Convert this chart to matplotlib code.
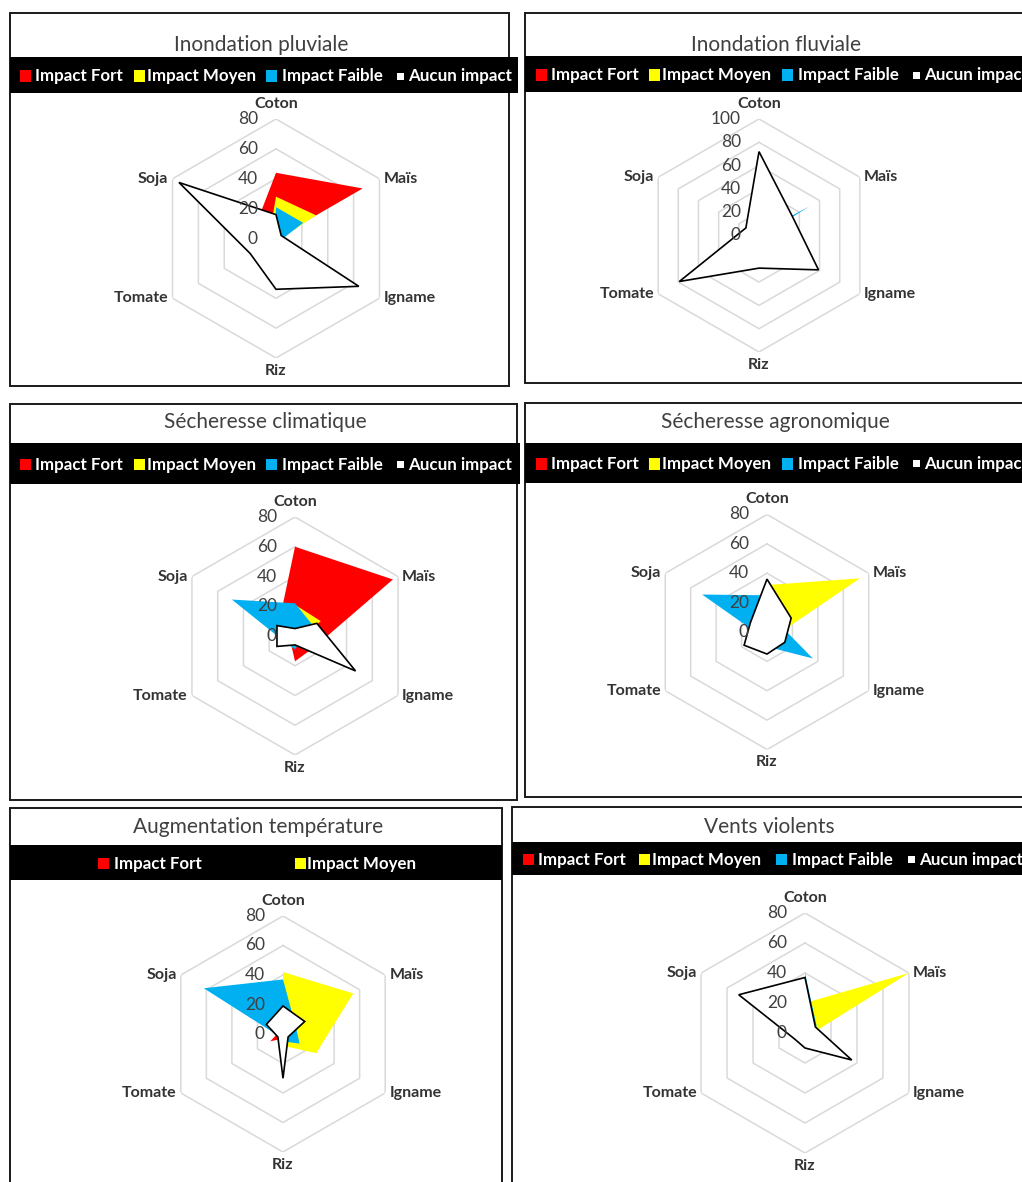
import matplotlib
matplotlib.use("Agg")
import matplotlib.pyplot as plt
import numpy as np
from matplotlib.patches import Rectangle

# --- Données (pourcentages par culture) ---
categories = ["Coton", "Maïs", "Igname", "Riz", "Tomate", "Soja"]
series_names = ["Impact Fort", "Impact Moyen", "Impact Faible", "Aucun impact"]
series_colors = ["#FF0000", "#FFFF00", "#00B0F0", "#FFFFFF"]

pluviale_fort   = [44, 67, 0, 0, 0, 16]
pluviale_moyen  = [28, 31, 2, 0, 0, 5]
pluviale_faible = [21, 21, 3, 0, 0, 1]
pluviale_aucun  = [16, 4, 64, 34, 20, 75]

fluviale_fort   = [0, 0, 0, 0, 0, 0]
fluviale_moyen  = [0, 0, 0, 0, 0, 0]
fluviale_faible = [2, 50, 2, 0, 0, 0]
fluviale_aucun  = [72, 33, 59, 28, 79, 13]

climatique_fort   = [60, 76, 15, 17, 4, 13]
climatique_moyen  = [21, 20, 3, 0, 0, 5]
climatique_faible = [22, 14, 5, 9, 8, 49]
climatique_aucun  = [5, 17, 47, 6, 14, 14]

agronomique_fort   = [0, 0, 0, 0, 0, 0]
agronomique_moyen  = [32, 73, 6, 0, 0, 5]
agronomique_faible = [25, 10, 36, 10, 5, 51]
agronomique_aucun  = [36, 19, 14, 15, 18, 13]

temperature_fort   = [0, 0, 0, 3, 10, 3]
temperature_moyen  = [42, 55, 26, 8, 0, 0]
temperature_faible = [37, 10, 13, 5, 3, 62]
temperature_aucun  = [19, 17, 4, 30, 4, 13]

vents_fort   = [0, 0, 0, 0, 0, 0]
vents_moyen  = [20, 80, 3, 0, 0, 0]
vents_faible = [40, 9, 3, 0, 0, 0]
vents_aucun  = [37, 8, 36, 10, 8, 51]

ticks_80  = [0, 20, 40, 60, 80]
ticks_100 = [0, 20, 40, 60, 80, 100]

W, H = 1022, 1182
FONT = "Lato"
TXT = "#404040"

fig = plt.figure(figsize=(W / 100, H / 100), dpi=100)


def rect_px(x0, y0, x1, y1, **kw):
    r = Rectangle((x0 / W, 1 - y1 / H), (x1 - x0) / W, (y1 - y0) / H,
                  transform=fig.transFigure, **kw)
    fig.add_artist(r)


def text_px(x, y, s, **kw):
    fig.text(x / W, 1 - y / H, s, fontfamily=FONT, **kw)


def panneau(box, title, title_y, bar, legend, centre, radius, ticks, data):
    x0, y0, x1, y1 = box
    rect_px(x0, y0, x1, y1, facecolor="white", edgecolor="#1a1a1a", lw=1.4, zorder=0)
    text_px((x0 + min(x1, W)) / 2 + 2, title_y, title, ha="center", va="center",
            fontsize=15, color=TXT)

    # bandeau de légende
    bx0, by0, bx1, by1 = bar
    rect_px(bx0, by0, bx1, by1, facecolor="black", edgecolor="none", zorder=1)
    ym = (by0 + by1) / 2
    for (sq, tx, idx) in legend:
        s = 7 if idx == 3 else 11
        rect_px(sq, ym - s / 2 + 1, sq + s, ym + s / 2 + 1,
                facecolor=series_colors[idx], edgecolor="none", zorder=2)
        text_px(tx, ym + 1, series_names[idx], ha="left", va="center",
                fontsize=12.2, fontweight="bold", color="white", zorder=3)

    # radar
    cx, cy = centre
    ax = fig.add_axes([(cx - radius) / W, 1 - (cy + radius) / H,
                       2 * radius / W, 2 * radius / H], projection="polar")
    ax.set_theta_zero_location("N")
    ax.set_theta_direction(-1)
    ax.set_ylim(0, ticks[-1])
    ax.set_axis_off()

    theta = np.linspace(0, 2 * np.pi, len(categories), endpoint=False)
    th = np.append(theta, theta[0])

    for t in ticks[1:]:
        ax.plot(th, [t] * len(th), color="#D9D9D9", lw=1.1, zorder=1)

    for idx, vals in enumerate(data):
        v = np.append(vals, vals[0])
        if idx == 3:
            ax.fill(th, v, facecolor="white", edgecolor="black", lw=1.2, zorder=5)
        else:
            ax.fill(th, v, facecolor=series_colors[idx], edgecolor="none", zorder=2 + idx)

    for t in ticks:
        ax.annotate(str(t), xy=(0, t), xytext=(-13, 0), textcoords="offset points",
                    ha="right", va="center", fontsize=12.5, color=TXT,
                    fontfamily=FONT, zorder=10)

    rmax = ticks[-1]
    places = [((0, 6), "center", "bottom"), ((3, 0), "left", "center"),
              ((3, 0), "left", "center"), ((0, -4), "center", "top"),
              ((-3, 0), "right", "center"), ((-3, 0), "right", "center")]
    for ang, name, (off, ha, va) in zip(theta, categories, places):
        ax.annotate(name, xy=(ang, rmax), xytext=off, textcoords="offset points",
                    ha=ha, va=va, fontsize=11.5, fontweight="bold", color="#333333",
                    fontfamily=FONT, annotation_clip=False)


leg4 = lambda x0, d: [(x0 + 10 + d[0], x0 + 25 + d[0], 0), (x0 + 124 + d[1], x0 + 137 + d[1], 1),
                      (x0 + 256 + d[2], x0 + 272 + d[2], 2), (x0 + 387 + d[3], x0 + 398 + d[3], 3)]

panneau((10, 13, 509, 386), "Inondation pluviale", 45, (10, 57, 518, 93),
        leg4(10, (0, 0, 0, 0)), (276, 238.5), 119.5, ticks_80,
        [pluviale_fort, pluviale_moyen, pluviale_faible, pluviale_aucun])

panneau((525, 13, 1040, 383), "Inondation fluviale", 45, (525, 56, W, 92),
        leg4(525, (1, 0, 1, 1)), (759, 235.5), 116.5, ticks_100,
        [fluviale_fort, fluviale_moyen, fluviale_faible, fluviale_aucun])

panneau((10, 404, 517, 800), "Sécheresse climatique", 422, (10, 443, 520, 484),
        leg4(10, (0, 0, 0, 0)), (295, 636), 119, ticks_80,
        [climatique_fort, climatique_moyen, climatique_faible, climatique_aucun])

panneau((525, 403, 1040, 797), "Sécheresse agronomique", 422, (525, 443, W, 483),
        leg4(525, (1, 0, 1, 1)), (767, 632), 117.5, ticks_80,
        [agronomique_fort, agronomique_moyen, agronomique_faible, agronomique_aucun])

panneau((10, 808, 502, 1200), "Augmentation température", 827, (10, 845, 502, 880),
        [(98, 114, 0), (295, 307, 1)], (283, 1034), 118, ticks_80,
        [temperature_fort, temperature_moyen, temperature_faible, temperature_aucun])

panneau((512, 807, 1040, 1200), "Vents violents", 827, (512, 842, W, 875),
        leg4(512, (1, 3, 8, 9)), (805, 1033), 120, ticks_80,
        [vents_fort, vents_moyen, vents_faible, vents_aucun])

plt.savefig("out.png", dpi=100)
